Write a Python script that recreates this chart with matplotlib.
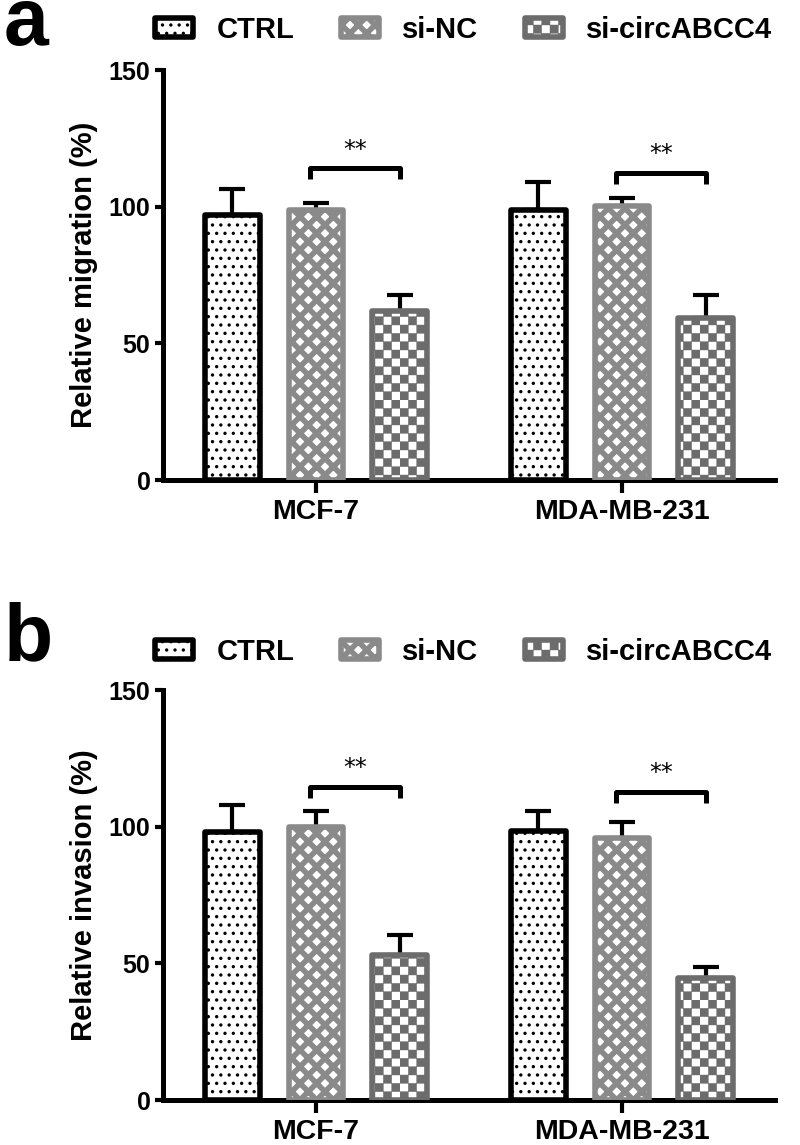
import numpy as np
import matplotlib
matplotlib.use("Agg")
import matplotlib.pyplot as plt
import matplotlib.patches as mpatches
import matplotlib.hatch as mhatch
from matplotlib.path import Path
from matplotlib.legend_handler import HandlerPatch

# ---------------- data ----------------
cell_lines = ["MCF-7", "MDA-MB-231"]
groups = ["CTRL", "si-NC", "si-circABCC4"]

migration_ctrl = [97.0, 98.8]
migration_sinc = [98.8, 100.2]
migration_sicirc = [61.8, 59.2]
migration_ctrl_err = [9.6, 10.2]
migration_sinc_err = [2.7, 2.8]
migration_sicirc_err = [6.0, 8.6]
migration_bracket = [114.0, 112.2]

invasion_ctrl = [98.0, 98.4]
invasion_sinc = [100.0, 96.0]
invasion_sicirc = [53.0, 44.7]
invasion_ctrl_err = [9.8, 7.3]
invasion_sinc_err = [5.7, 5.8]
invasion_sicirc_err = [7.4, 4.0]
invasion_bracket = [114.6, 112.7]

sig_labels = ["**", "**"]
yticks = [0, 50, 100, 150]

# ---------------- custom checker hatch (uses 'O') ----------------
class CheckerHatch(mhatch.HatchPatternBase):
    filled = True
    def __init__(self, hatch, density):
        n = int(hatch.count('O') * density)
        if n % 2:
            n += 1
        self.n = n
        self.num_vertices = (n * n // 2) * 5 if n > 0 else 0

    def set_vertices_and_codes(self, vertices, codes):
        s = 1.0 / self.n
        k = 0
        for i in range(self.n):
            for j in range(self.n):
                if (i + j) % 2 == 0:
                    x0, y0 = i * s, j * s
                    vertices[k:k + 5] = [[x0, y0], [x0 + s, y0], [x0 + s, y0 + s],
                                         [x0, y0 + s], [x0, y0]]
                    codes[k] = Path.MOVETO
                    codes[k + 1:k + 4] = Path.LINETO
                    codes[k + 4] = Path.CLOSEPOLY
                    k += 5

mhatch._hatch_types = [t for t in mhatch._hatch_types
                       if t is not mhatch.LargeCircles] + [CheckerHatch]

# ---------------- style ----------------
plt.rcParams['font.family'] = ['Liberation Sans', 'DejaVu Sans']
plt.rcParams['font.weight'] = 'bold'

styles = {
    "CTRL": dict(edge="#000000", hatch="..", hlw=1.2),
    "si-NC": dict(edge="#8a8a8a", hatch="xx", hlw=4.0),
    "si-circABCC4": dict(edge="#6c6c6c", hatch="OO", hlw=0.3),
}

fig = plt.figure(figsize=(8.0, 11.45), dpi=100)

W, H = 800.0, 1145.0
def ax_rect(left_px, right_px, top_px, bottom_px):
    return [left_px / W, 1 - bottom_px / H, (right_px - left_px) / W, (bottom_px - top_px) / H]

ax_a = fig.add_axes(ax_rect(163, 775, 70, 480))
ax_b = fig.add_axes(ax_rect(163, 775, 690, 1100))

offset = 0.273
width = 0.178


def set_hlw(p, v):
    if hasattr(p, "set_hatch_linewidth"):
        p.set_hatch_linewidth(v)


def draw_panel(ax, vals, errs, brackets, ylabel):
    x = np.arange(len(cell_lines))
    for gi, g in enumerate(groups):
        st = styles[g]
        pos = x + (gi - 1) * offset
        with plt.rc_context({'hatch.linewidth': st["hlw"]}):
            bars = ax.bar(pos, vals[gi], width=width, facecolor="white",
                          edgecolor=st["edge"], hatch=st["hatch"], linewidth=4.0,
                          zorder=3)
        for b in bars:
            b.set_joinstyle('round')
            set_hlw(b, st["hlw"])
        ax.errorbar(pos, vals[gi], yerr=[np.zeros(len(x)), errs[gi]], fmt='none',
                    ecolor="black", elinewidth=3.0, capsize=9.5, capthick=3.0,
                    zorder=2)
    # significance brackets
    for ci in range(len(cell_lines)):
        x1 = x[ci] - 0.02
        x2 = x[ci] + offset
        yb = brackets[ci]
        ax.plot([x1, x1, x2, x2], [yb - 4, yb, yb, yb - 4], color="black",
                lw=3.6, solid_joinstyle='round', solid_capstyle='butt', zorder=4,
                clip_on=False)
        ax.text((x1 + x2) / 2, yb + 2.5, sig_labels[ci], ha="center", va="bottom",
                fontsize=17, fontweight="normal", family=['DejaVu Sans'])
    ax.set_xlim(-0.5, 1.5)
    ax.set_ylim(0, 150)
    ax.set_yticks(yticks)
    ax.set_xticks(x)
    ax.set_xticklabels(cell_lines, fontsize=20.5, fontweight="bold")
    ax.tick_params(axis='y', labelsize=18, width=3.0, length=6, direction='out', pad=3)
    ax.tick_params(axis='x', width=3.0, length=9, direction='out', pad=5)
    for lab in ax.get_yticklabels():
        lab.set_fontweight("bold")
    for s in ["top", "right"]:
        ax.spines[s].set_visible(False)
    for s in ["left", "bottom"]:
        ax.spines[s].set_linewidth(3.6)
        ax.spines[s].set_capstyle('projecting')
    ax.set_ylabel(ylabel, fontsize=21, fontweight="bold", labelpad=8)
    ax.set_facecolor("none")


draw_panel(ax_a, [migration_ctrl, migration_sinc, migration_sicirc],
           [migration_ctrl_err, migration_sinc_err, migration_sicirc_err],
           migration_bracket, "Relative migration (%)")
draw_panel(ax_b, [invasion_ctrl, invasion_sinc, invasion_sicirc],
           [invasion_ctrl_err, invasion_sinc_err, invasion_sicirc_err],
           invasion_bracket, "Relative invasion (%)")


class RoundHandler(HandlerPatch):
    def create_artists(self, legend, orig_handle, xdescent, ydescent, width, height,
                       fontsize, trans):
        p = mpatches.Rectangle((-xdescent, -ydescent), width, height)
        self.update_prop(p, orig_handle, legend)
        p.set_joinstyle('round')
        p.set_transform(trans)
        if hasattr(orig_handle, "get_hatch_linewidth") and hasattr(p, "set_hatch_linewidth"):
            p.set_hatch_linewidth(orig_handle.get_hatch_linewidth())
        return [p]


def add_legend(center_px):
    handles = []
    for g in groups:
        st = styles[g]
        with plt.rc_context({'hatch.linewidth': st["hlw"]}):
            h = mpatches.Patch(facecolor="white", edgecolor=st["edge"], hatch=st["hatch"],
                               linewidth=4.0, label=g)
        set_hlw(h, st["hlw"])
        handles.append(h)
    leg = fig.legend(handles=handles, loc="center left",
                     bbox_to_anchor=(155 / W, 1 - center_px / H), ncol=3, frameon=False,
                     handlelength=1.3, handleheight=0.65,
                     handletextpad=0.8, columnspacing=1.6, borderpad=0,
                     borderaxespad=0,
                     handler_map={mpatches.Patch: RoundHandler()},
                     prop={'weight': 'bold', 'size': 21})
    return leg


add_legend(30)
add_legend(652)

fig.text(4 / W, 1 - 45 / H, "a", fontsize=58, fontweight="bold", va="baseline",
         ha="left", family=['Liberation Sans', 'DejaVu Sans'])
fig.text(4 / W, 1 - 660 / H, "b", fontsize=58, fontweight="bold", va="baseline",
         ha="left", family=['Liberation Sans', 'DejaVu Sans'])

fig.savefig("out.png", dpi=100, facecolor="white")
